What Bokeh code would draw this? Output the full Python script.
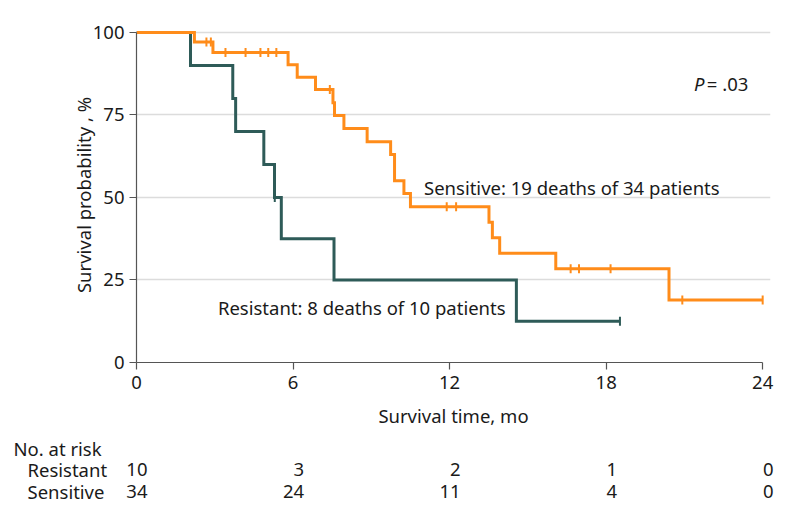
import numpy as np
from bokeh.plotting import figure
from bokeh.layouts import column
from bokeh.models import Range1d, FixedTicker, Label
from bokeh.core.properties import value
from bokeh.embed import file_html
from bokeh.resources import INLINE

FONT = "Noto Sans"
FS = "18.5px"
ORANGE = "#FF8C1A"
TEAL = "#2E5B58"
TXT = "#1a1a1a"

# Kaplan-Meier step curves
sens_time = [0, 2.22, 2.93, 5.81, 6.16, 6.86, 7.53, 7.59, 7.95, 8.84, 9.74, 9.89,
             10.25, 10.50, 13.51, 13.64, 13.92, 16.07, 20.41, 24.0]
sens_surv = [100, 97.1, 93.9, 90.2, 86.4, 82.7, 78.7, 74.8, 70.9, 66.9, 63.0, 55.1,
             51.2, 47.2, 42.5, 37.8, 33.1, 28.4, 18.9, 18.9]
sens_cens_time = [2.68, 2.85, 3.41, 4.18, 4.75, 5.05, 5.36, 7.41, 11.89, 12.25,
                  16.64, 16.96, 18.17, 20.92, 24.0]
sens_cens_surv = [97.1, 97.1, 93.9, 93.9, 93.9, 93.9, 93.9, 82.7, 47.2, 47.2,
                  28.4, 28.4, 28.4, 18.9, 18.9]

res_time = [0, 2.07, 3.69, 3.80, 4.88, 5.29, 5.55, 7.57, 14.56, 18.53]
res_surv = [100, 90, 80, 70, 60, 50, 37.5, 25, 12.5, 12.5]
res_cens_time = [5.30, 18.53]
res_cens_surv = [50, 12.5]

risk_times = [0, 6, 12, 18, 24]
risk_resistant = [10, 3, 2, 1, 0]
risk_sensitive = [34, 24, 11, 4, 0]
row_names = ["Resistant", "Sensitive"]

x_ticks = [0, 6, 12, 18, 24]
y_ticks = [0, 25, 50, 75, 100]

# ---- layout constants (pixels)
W = 790
LEFT, RIGHT, TOP = 136, 20, 27
FRAME_W = W - LEFT - RIGHT
X_END = 24.3
PX = FRAME_W / X_END  # pixels per month

p = figure(width=W, height=435, output_backend="svg", toolbar_location=None,
           x_range=Range1d(0, X_END), y_range=Range1d(0, 101.5),
           min_border_left=LEFT, min_border_right=RIGHT, min_border_top=TOP,
           min_border_bottom=73)
p.outline_line_color = None
p.frame_align = False

p.xgrid.visible = False
p.ygrid.ticker = FixedTicker(ticks=y_ticks[1:])
p.ygrid.grid_line_color = "#DCDCDC"
p.ygrid.grid_line_width = 1.5
p.ygrid.bounds = (0, 24)

for ax in (p.xaxis[0], p.yaxis[0]):
    ax.axis_line_color = "#555555"
    ax.axis_line_width = 1.2
    ax.major_tick_line_color = "#555555"
    ax.major_tick_line_width = 1.2
    ax.major_tick_in = 0
    ax.major_tick_out = 7
    ax.minor_tick_line_color = None
    ax.major_label_text_font = FONT
    ax.major_label_text_font_size = FS
    ax.major_label_text_color = TXT
    ax.axis_label_text_font = FONT
    ax.axis_label_text_font_size = FS
    ax.axis_label_text_font_style = "normal"
    ax.axis_label_text_color = TXT

p.xaxis.ticker = FixedTicker(ticks=x_ticks)
p.xaxis.bounds = (0, 24)
p.xaxis.axis_label = "Survival time, mo"
p.xaxis.major_label_standoff = 6
p.xaxis.axis_label_standoff = 11

p.yaxis.ticker = FixedTicker(ticks=y_ticks)
p.yaxis.bounds = (0, 100)
p.yaxis.axis_label = "Survival probability , %"
p.yaxis.major_label_standoff = 5
p.yaxis.axis_label_standoff = -6

# curves
p.step(res_time, res_surv, mode="after", line_color=TEAL, line_width=3,
       line_join="miter")
p.scatter(res_cens_time, res_cens_surv, marker="dash", angle=np.pi / 2, size=9,
          line_color=TEAL, line_width=2)
p.step(sens_time, sens_surv, mode="after", line_color=ORANGE, line_width=3,
       line_join="miter")
p.scatter(sens_cens_time, sens_cens_surv, marker="dash", angle=np.pi / 2, size=9,
          line_color=ORANGE, line_width=2)

def lab(**kw):
    d = dict(text_font=FONT, text_font_size=FS, text_color=TXT,
             text_baseline="alphabetic")
    d.update(kw)
    p.add_layout(Label(**d))

lab(x=21.37, y=84.6, text="P", text_font_style="italic")
lab(x=21.86, y=84.6, text="= .03")
lab(x=11.02, y=53.1, text="Sensitive: 19 deaths of 34 patients")
lab(x=3.12, y=16.8, text="Resistant: 8 deaths of 10 patients")

# ---- number at risk table (same horizontal scale as the plot)
t = figure(width=W, height=85, output_backend="svg", toolbar_location=None,
           x_range=Range1d(-LEFT / PX, (W - LEFT) / PX), y_range=Range1d(85, 0),
           min_border_left=0, min_border_right=0, min_border_top=0,
           min_border_bottom=0, x_axis_location=None, y_axis_location=None)
t.outline_line_color = None
t.grid.visible = False
t.frame_align = False

txt_kw = dict(text_font=value(FONT), text_font_size=value(FS), text_color=TXT,
              text_baseline="alphabetic")
t.text(x=[(13 - LEFT) / PX], y=[13], text=["No. at risk"], **txt_kw)
for name, row, yy in zip(row_names, [risk_resistant, risk_sensitive], [34, 56]):
    t.text(x=[(27 - LEFT) / PX], y=[yy], text=[name], **txt_kw)
    t.text(x=risk_times, y=[yy] * len(row), text=[str(n) for n in row],
           text_align="right", x_offset=11, **txt_kw)

layout = column(p, t, spacing=0)
open("out.html", "w").write(file_html(layout, INLINE))
